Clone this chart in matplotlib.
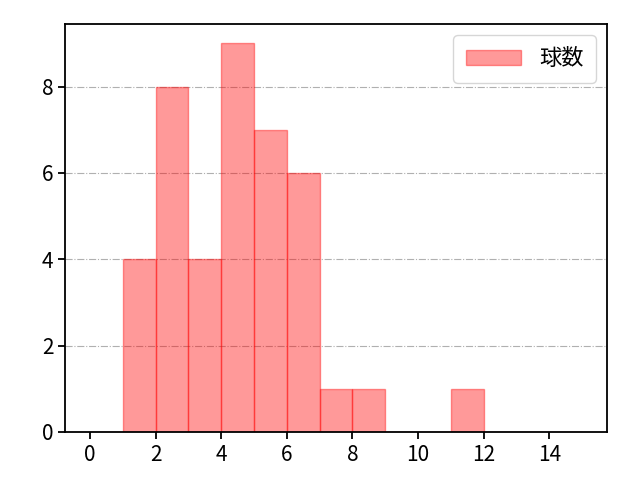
import matplotlib
matplotlib.use("Agg")
import matplotlib.pyplot as plt

plt.rcParams['font.family'] = ['Noto Sans CJK JP', 'DejaVu Sans']
plt.rcParams['font.size'] = 15

# bin edges and counts
bin_edges = list(range(0, 16))
counts = [0, 4, 8, 4, 9, 7, 6, 1, 1, 0, 0, 1, 0, 0, 0]
bin_left = bin_edges[:-1]

fig, ax = plt.subplots(figsize=(6.4, 4.8), dpi=100)
fig.subplots_adjust(left=0.102, right=0.948, bottom=0.1, top=0.95)
ax.hist(bin_left, bins=bin_edges, weights=counts,
        color='red', alpha=0.4, edgecolor='red', label='球数')
ax.grid(axis='y', linestyle='-.', color='#b0b0b0')
ax.set_axisbelow(True)
ax.set_xticks(range(0, 16, 2))
for sp in ax.spines.values():
    sp.set_linewidth(1.3)
ax.tick_params(width=1.3, length=5)
ax.legend(loc='upper right', handlelength=2.5, borderpad=0.55, fontsize=16)
fig.savefig('out.png')
